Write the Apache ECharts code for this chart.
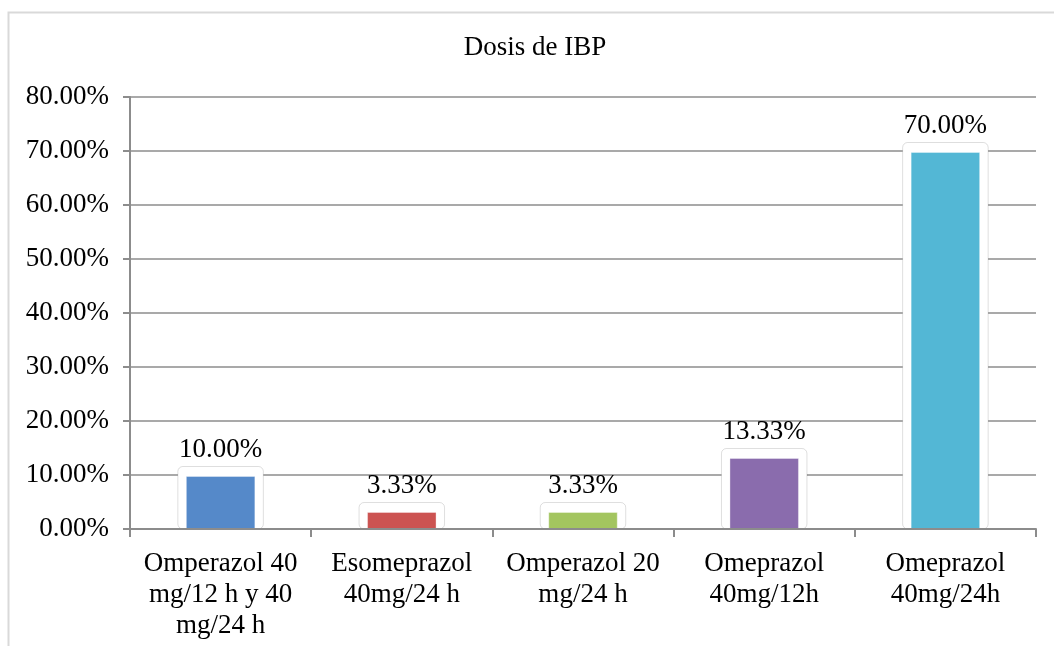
<!DOCTYPE html>
<head>
    <meta charset="UTF-8">
    <title>Dosis de IBP</title>
</head>
<body style="margin:0">
<div id="main" style="width:1054px;height:646px"></div>
<script src="https://cdn.jsdelivr.net/npm/echarts@6/dist/echarts.min.js"></script>
<script type="text/javascript">
    var categories = ['Omperazol 40\nmg/12 h y 40\nmg/24 h', 'Esomeprazol\n40mg/24 h', 'Omperazol 20\nmg/24 h', 'Omeprazol\n40mg/12h', 'Omeprazol\n40mg/24h'];
    var values = [10.00, 3.33, 3.33, 13.33, 70.00];
    var barColors = ['#5589c9', '#cc5351', '#a3c55f', '#8a6cad', '#53b7d5'];
    var yTicks = [0, 10, 20, 30, 40, 50, 60, 70, 80];

    var font = '"Liberation Serif", "Times New Roman", serif';

    // barra con marco blanco alrededor
    function renderBar(params, api) {
        var idx = api.value(0);
        var top = api.coord([idx, api.value(1)]);
        var base = api.coord([idx, 0]);
        var w = api.size([1, 0])[0] * 0.378;
        var pad = 8.5;
        var x0 = top[0] - w / 2;
        return {
            type: 'group',
            children: [
                {
                    type: 'rect',
                    shape: {x: x0 - pad, y: top[1] - pad, width: w + pad * 2, height: base[1] - top[1] + pad, r: 5},
                    style: {fill: '#fff', stroke: 'rgba(0,0,0,0.13)', lineWidth: 1}
                },
                {
                    type: 'rect',
                    shape: {x: x0, y: top[1] + 1.5, width: w, height: base[1] - top[1] - 1.5},
                    style: {fill: barColors[idx], stroke: 'rgba(255,255,255,0.35)', lineWidth: 1}
                },
                {
                    type: 'text',
                    x: top[0],
                    y: top[1] - pad - 3,
                    style: {
                        text: api.value(1).toFixed(2) + '%',
                        fill: '#000',
                        font: '27px ' + font,
                        align: 'center',
                        verticalAlign: 'bottom'
                    }
                }
            ]
        };
    }

    var option = {
        animation: false,
        title: {
            text: 'Dosis de IBP',
            left: 535,
            top: 34,
            padding: 0,
            textAlign: 'center',
            textStyle: {fontFamily: font, fontSize: 27, fontWeight: 'normal', color: '#000'}
        },
        graphic: [
            {
                type: 'rect',
                shape: {x: 8.5, y: 12.5, width: 1100, height: 700},
                style: {fill: 'none', stroke: '#d9d9d9', lineWidth: 2},
                silent: true
            }
        ],
        grid: {
            left: 130,
            right: 18,
            top: 97,
            bottom: 117,
            containLabel: false
        },
        xAxis: {
            type: 'category',
            data: categories,
            z: 10,
            axisLine: {lineStyle: {color: '#8c8c8c', width: 2}},
            axisTick: {show: true, length: 8, lineStyle: {color: '#8c8c8c', width: 2}},
            axisLabel: {
                interval: 0,
                margin: 19,
                fontFamily: font,
                fontSize: 27,
                color: '#000',
                lineHeight: 31
            }
        },
        yAxis: {
            type: 'value',
            min: 0,
            max: 80,
            interval: 10,
            axisLine: {show: true, lineStyle: {color: '#8c8c8c', width: 2}},
            axisTick: {show: true, length: 7, lineStyle: {color: '#8c8c8c', width: 2}},
            splitLine: {lineStyle: {color: '#8c8c8c', width: 1.5}},
            axisLabel: {
                margin: 21,
                fontFamily: font,
                fontSize: 27,
                color: '#000',
                formatter: function (v) { return v.toFixed(2) + '%'; }
            }
        },
        series: [
            {
                type: 'custom',
                renderItem: renderBar,
                encode: {x: 0, y: 1},
                data: values.map(function (v, i) { return [i, v]; })
            }
        ]
    };

    var myChart = echarts.init(document.getElementById('main'));
    myChart.setOption(option);
</script>
</body>
